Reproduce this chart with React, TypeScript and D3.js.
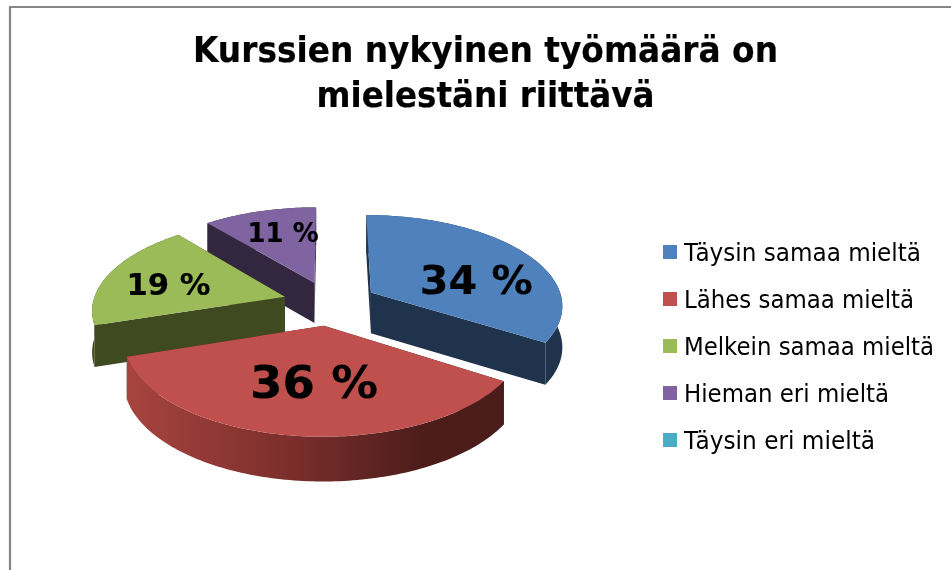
import React from "react";
import * as d3 from "d3";

const categories = ["Täysin samaa mieltä", "Lähes samaa mieltä", "Melkein samaa mieltä", "Hieman eri mieltä", "Täysin eri mieltä"];
const values = [34, 36, 19, 11, 0];
const labels = ["34 %", "36 %", "19 %", "11 %"];
const topColors = ["#4f81bd", "#c0504d", "#9bbb59", "#8064a2", "#4bacc6"];
const wallColors = ["#1f334d", "#4a1c1a", "#3f4a20", "#33273f", "#1f4a56"];
const titleLines = ["Kurssien nykyinen työmäärä on", "mielestäni riittävä"];
const titleWidths = [585, 338];
const titleY = [62, 107];
const labelSizes = [39, 45, 31, 27];
const labelWidths = [113, 128, 84, 71];
const labelOffsets = [[11, 12], [7, -6], [-10, 1], [3, -6]];
const legendWidths = [237, 230, 250, 205, 191];

const W = 951, H = 570;
const cx = 330, cy = 303, R = 192, K = 90, P = 0.13, EXPLODE = 0.247, DEPTH = 41;
const FONT = "'DejaVu Sans', sans-serif";

type Pt = [number, number];
const scaleOf = (Y: number) => 1 / (1 + P * Y);
const project = (X: number, Y: number, down = 0): Pt => {
  const s = scaleOf(Y);
  return [cx + X * R * s, cy - Y * K * s + (down ? DEPTH * Math.sqrt(s) : 0)];
};

const pieGen = d3.pie<number>().sort(null).startAngle(0).endAngle(2 * Math.PI);
const arcs = pieGen(values);
const line = d3.line<Pt>().curve(d3.curveLinear);

function sliceGeom(a0: number, a1: number) {
  const mid = (a0 + a1) / 2;
  const ox = EXPLODE * Math.sin(mid), oy = EXPLODE * Math.cos(mid);
  const n = Math.max(2, Math.ceil((a1 - a0) / 0.02));
  const ring = d3.range(n + 1).map((i) => a0 + ((a1 - a0) * i) / n);
  const rim = (down: number) => ring.map((a) => project(ox + Math.sin(a), oy + Math.cos(a), down));
  const apex = (down: number) => project(ox, oy, down);
  return { mid, ox, oy, rim, apex };
}

export default function App() {
  const slices = arcs.slice(0, 4).map((a, i) => ({ i, a, g: sliceGeom(a.startAngle, a.endAngle) }));
  const order = [3, 2, 0, 1];
  return (
    <svg width={W} height={H} style={{ position: "absolute", left: 0, top: 0, background: "#fff" }}>
      <defs>
        <linearGradient id="wall-1" gradientUnits="userSpaceOnUse" x1={125} x2={500} y1={0} y2={0}>
          <stop offset="0" stopColor="#a8443f" />
          <stop offset="0.45" stopColor="#7a2e2c" />
          <stop offset="0.8" stopColor="#4c1d1b" />
          <stop offset="1" stopColor="#4a1c1a" />
        </linearGradient>
        <filter id="soft" filterUnits="userSpaceOnUse" x="0" y="0" width={W} height={H} colorInterpolationFilters="sRGB">
          <feGaussianBlur stdDeviation="0.5" />
        </filter>
      </defs>
      <g filter="url(#soft)">
        <rect x={0} y={0} width={W} height={H} fill="#fff" />
        <path d={`M${W + 5},7H10V${H + 5}`} fill="none" stroke="#868686" strokeWidth={2.2} />
        {titleLines.map((t, i) => (
          <text key={t} x={485.5} y={titleY[i]} textAnchor="middle" fontFamily={FONT} fontWeight="bold" fontSize={36}
            textLength={titleWidths[i]} lengthAdjust="spacingAndGlyphs" fill="#000" stroke="#000" strokeWidth={0.2}>{t}</text>
        ))}
        {order.map((idx) => {
          const { i, g } = slices[idx];
          const top = g.rim(0), bot = g.rim(1);
          const wallFill = i === 1 ? "url(#wall-1)" : wallColors[i];
          const rimPoly = [...top, ...bot.slice().reverse()];
          const a0 = g.apex(0), a1 = g.apex(1);
          const face0 = [a0, top[0], bot[0], a1];
          const face1 = [a0, top[top.length - 1], bot[bot.length - 1], a1];
          return (
            <g key={i}>
              <path d={line(face0) + "Z"} fill={wallColors[i]} />
              <path d={line(face1) + "Z"} fill={wallColors[i]} />
              <path d={line(rimPoly) + "Z"} fill={wallFill} />
              <path d={line([a0, ...top]) + "Z"} fill={topColors[i]} />
            </g>
          );
        })}
        {slices.map(({ i, g }) => {
          const f = 0.6;
          const [x, y] = project(g.ox + f * Math.sin(g.mid), g.oy + f * Math.cos(g.mid));
          return (
            <text key={i} x={x + labelOffsets[i][0]} y={y + labelOffsets[i][1]} dy="0.36em" textAnchor="middle"
              fontFamily={FONT} fontWeight="bold" fontSize={labelSizes[i]}
              textLength={labelWidths[i]} lengthAdjust="spacingAndGlyphs" fill="#000" stroke="#000" strokeWidth={0.2}>{labels[i]}</text>
          );
        })}
        {categories.map((c, i) => (
          <g key={c} transform={`translate(663,${245 + i * 47})`}>
            <rect width={14} height={14} fill={topColors[i]} />
            <text x={21} y={15.5} fontFamily={FONT} fontSize={24} textLength={legendWidths[i]}
              lengthAdjust="spacingAndGlyphs" fill="#000">{c}</text>
          </g>
        ))}
      </g>
    </svg>
  );
}
